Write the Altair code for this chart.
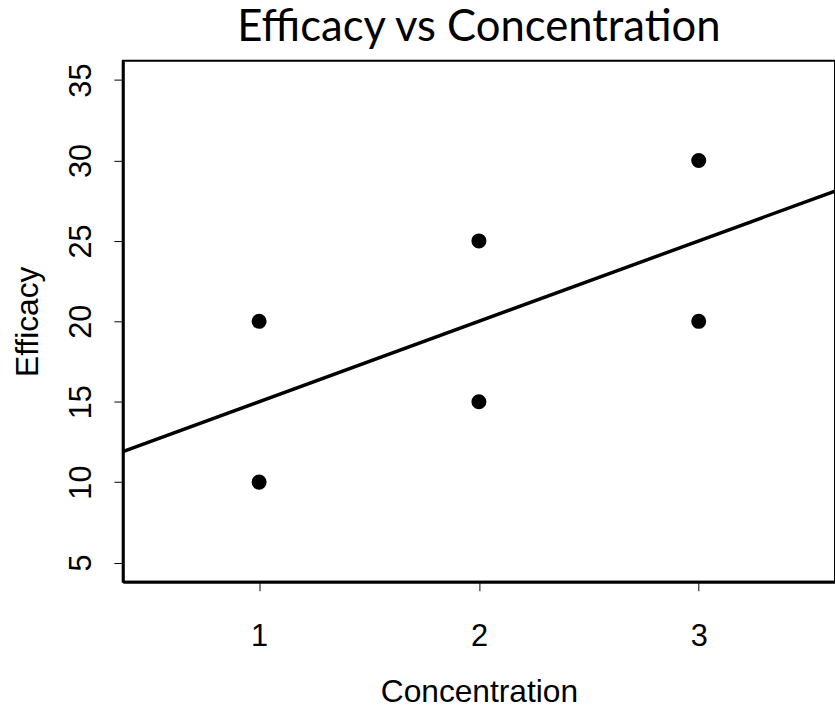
import altair as alt
import pandas as pd

concentration = [1, 1, 2, 2, 3, 3]
efficacy = [10, 20, 15, 25, 20, 30]
x_ticks = [1, 2, 3]
y_ticks = [5, 10, 15, 20, 25, 30, 35]
x_domain = [0.38, 3.62]
y_domain = [3.8, 36.2]

df = pd.DataFrame({"Concentration": concentration, "Efficacy": efficacy})

xenc = alt.X("Concentration:Q", scale=alt.Scale(domain=x_domain, nice=False, zero=False),
             axis=alt.Axis(values=x_ticks, title="Concentration", labelAngle=0,
                           labelPadding=31, titlePadding=26))
yenc = alt.Y("Efficacy:Q", scale=alt.Scale(domain=y_domain, nice=False, zero=False),
             axis=alt.Axis(values=y_ticks, title="Efficacy", labelAngle=-90,
                           labelAlign="center", labelBaseline="bottom",
                           labelPadding=17, titlePadding=21))

base = alt.Chart(df)
points = base.mark_circle(size=230, color="black", opacity=1).encode(x=xenc, y=yenc)
line = base.transform_regression(
    "Concentration", "Efficacy", extent=x_domain
).mark_line(color="black", strokeWidth=3.5, clip=True).encode(x=xenc, y=yenc)

chart = alt.layer(line, points).properties(
    width=719, height=526,
    background="white",
    title=alt.TitleParams("Efficacy vs Concentration", font="Lato", fontSize=44,
                          fontWeight="normal", color="black", anchor="middle",
                          baseline="alphabetic", offset=16, frame="group", dy=40),
    autosize=alt.AutoSizeParams(type="none"),
    padding={"left": 124, "top": 58, "right": 0, "bottom": 124},
).configure_view(
    stroke="black", strokeWidth=2
).configure_axis(
    grid=False, domainColor="black", domainWidth=3, tickColor="black", tickWidth=1,
    tickSize=9, labelFont="Liberation Sans", labelFontSize=31, labelColor="black",
    titleFont="Liberation Sans", titleFontSize=32, titleFontWeight="normal",
    titleColor="black"
)

chart.save("out.html", embed_options={"renderer": "svg", "actions": False})
